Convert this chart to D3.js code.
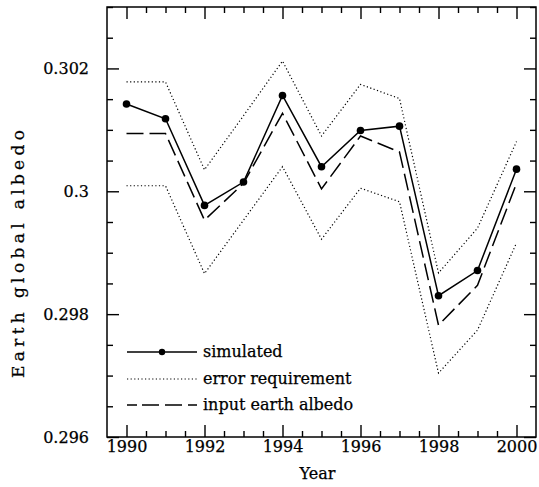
<!DOCTYPE html>
<html>
<head>
<meta charset="utf-8">
<script src="https://cdn.jsdelivr.net/npm/d3@7"></script>
<style>
  body { margin: 0; background: #fff; }
  svg { display: block; font-family: "DejaVu Serif", serif; }
</style>
</head>
<body>
<svg id="chart" width="539" height="487"></svg>
<script>
// values
const years = [1990, 1991, 1992, 1993, 1994, 1995, 1996, 1997, 1998, 1999, 2000];
const simulated = [0.30142, 0.30118, 0.29977, 0.30015, 0.30156, 0.30040, 0.30099, 0.30106, 0.29830, 0.29871, 0.30036];
const inputAlbedo = [0.30094, 0.30094, 0.29953, 0.30013, 0.30127, 0.30004, 0.30090, 0.30064, 0.29782, 0.29847, 0.30013];
const errorUpper = [0.30178, 0.30178, 0.30035, 0.30123, 0.30212, 0.30090, 0.30174, 0.30151, 0.29867, 0.29940, 0.30081];
const errorLower = [0.30009, 0.30009, 0.29866, 0.29953, 0.30040, 0.29922, 0.30005, 0.29983, 0.29704, 0.29774, 0.29916];
const xTickLabels = [1990, 1992, 1994, 1996, 1998, 2000];
const yTickLabels = [0.296, 0.298, 0.3, 0.302];
const legendLabels = ['simulated', 'error requirement', 'input earth albedo'];

const mLeft = 107, mRight = 536, mTop = 7, mBottom = 437;

const svg = d3.select('#chart');

const x = d3.scaleLinear().domain([1989.5, 2000.5]).range([mLeft, mRight]);
const y = d3.scaleLinear().domain([0.296, 0.303]).range([mBottom, mTop]);

const xMinor = d3.range(1990, 2000.01, 0.5).filter(v => v % 2 !== 0);
const yMinor = d3.range(0.2965, 0.30301, 0.0005).filter(v => !yTickLabels.some(t => Math.abs(t - v) < 1e-7));

function styleAxis(g) {
  g.select('.domain').remove();
  g.selectAll('line').attr('stroke', '#000').attr('stroke-width', 1.4);
  g.selectAll('text').attr('fill', '#000').attr('font-size', 16)
    .attr('font-family', '"DejaVu Serif", serif')
    .attr('stroke', '#000').attr('stroke-width', 0.25);
}

// major ticks with labels
svg.append('g').attr('transform', `translate(0,${mBottom})`)
  .call(d3.axisBottom(x).tickValues(xTickLabels).tickFormat(d3.format('d')).tickSizeInner(-12).tickSizeOuter(0).tickPadding(4))
  .call(styleAxis);
svg.append('g').attr('transform', `translate(${mLeft},0)`)
  .call(d3.axisLeft(y).tickValues(yTickLabels).tickFormat(d => d === 0.3 ? '0.3' : d3.format('.3f')(d)).tickSizeInner(-12).tickSizeOuter(0).tickPadding(18))
  .call(styleAxis);
// top and right major ticks
svg.append('g').attr('transform', `translate(0,${mTop})`)
  .call(d3.axisTop(x).tickValues(xTickLabels).tickFormat('').tickSizeInner(-12).tickSizeOuter(0))
  .call(styleAxis);
svg.append('g').attr('transform', `translate(${mRight},0)`)
  .call(d3.axisRight(y).tickValues(yTickLabels).tickFormat('').tickSizeInner(-12).tickSizeOuter(0))
  .call(styleAxis);
// minor ticks
svg.append('g').attr('transform', `translate(0,${mBottom})`)
  .call(d3.axisBottom(x).tickValues(xMinor).tickFormat('').tickSizeInner(-6).tickSizeOuter(0)).call(styleAxis);
svg.append('g').attr('transform', `translate(0,${mTop})`)
  .call(d3.axisTop(x).tickValues(xMinor).tickFormat('').tickSizeInner(-6).tickSizeOuter(0)).call(styleAxis);
svg.append('g').attr('transform', `translate(${mLeft},0)`)
  .call(d3.axisLeft(y).tickValues(yMinor).tickFormat('').tickSizeInner(-6).tickSizeOuter(0)).call(styleAxis);
svg.append('g').attr('transform', `translate(${mRight},0)`)
  .call(d3.axisRight(y).tickValues(yMinor).tickFormat('').tickSizeInner(-6).tickSizeOuter(0)).call(styleAxis);

// frame
svg.append('rect')
  .attr('x', mLeft).attr('y', mTop)
  .attr('width', mRight - mLeft).attr('height', mBottom - mTop)
  .attr('fill', 'none').attr('stroke', '#000').attr('stroke-width', 1.5);

const line = d3.line().x(d => x(d[0])).y(d => y(d[1]));
const pairs = arr => years.map((yr, i) => [yr, arr[i]]);

const dotted = '1.2,2.4';
const dashed = '17,6';

[errorUpper, errorLower].forEach(arr => {
  svg.append('path')
    .attr('d', line(pairs(arr)))
    .attr('fill', 'none').attr('stroke', '#000')
    .attr('stroke-width', 1.2).attr('stroke-dasharray', dotted);
});

svg.append('path')
  .attr('d', line(pairs(inputAlbedo)))
  .attr('fill', 'none').attr('stroke', '#000')
  .attr('stroke-width', 1.5).attr('stroke-dasharray', dashed);

svg.append('path')
  .attr('d', line(pairs(simulated)))
  .attr('fill', 'none').attr('stroke', '#000').attr('stroke-width', 1.5);

svg.selectAll('circle.sim')
  .data(pairs(simulated))
  .join('circle')
  .attr('class', 'sim')
  .attr('cx', d => x(d[0])).attr('cy', d => y(d[1]))
  .attr('r', 3.8).attr('fill', '#000');

// legend
const legend = svg.append('g');
const legendRows = [352, 379, 405];
legendLabels.forEach((label, i) => {
  const ly = legendRows[i];
  const seg = legend.append('line')
    .attr('x1', 127).attr('x2', 197).attr('y1', ly).attr('y2', ly)
    .attr('stroke', '#000').attr('stroke-width', i === 1 ? 1.2 : 1.5);
  if (i === 1) seg.attr('stroke-dasharray', dotted);
  if (i === 2) seg.attr('stroke-dasharray', '10,5,17,6,17,6');
  if (i === 0) legend.append('circle').attr('cx', 162).attr('cy', ly).attr('r', 3.2).attr('fill', '#000');
  legend.append('text')
    .attr('x', 203).attr('y', ly + 5)
    .attr('font-size', 16).attr('fill', '#000')
    .attr('stroke', '#000').attr('stroke-width', 0.25)
    .text(label);
});

// axis titles
svg.append('text')
  .attr('x', (mLeft + mRight) / 2 - 4).attr('y', 479)
  .attr('text-anchor', 'middle').attr('font-size', 16)
  .attr('stroke', '#000').attr('stroke-width', 0.25)
  .text('Year');
svg.append('text')
  .attr('transform', `translate(23.5,254) rotate(-90)`)
  .attr('text-anchor', 'middle').attr('font-size', 17)
  .attr('textLength', 248).attr('lengthAdjust', 'spacing')
  .attr('stroke', '#000').attr('stroke-width', 0.25)
  .text('Earth global albedo');
</script>
</body>
</html>
